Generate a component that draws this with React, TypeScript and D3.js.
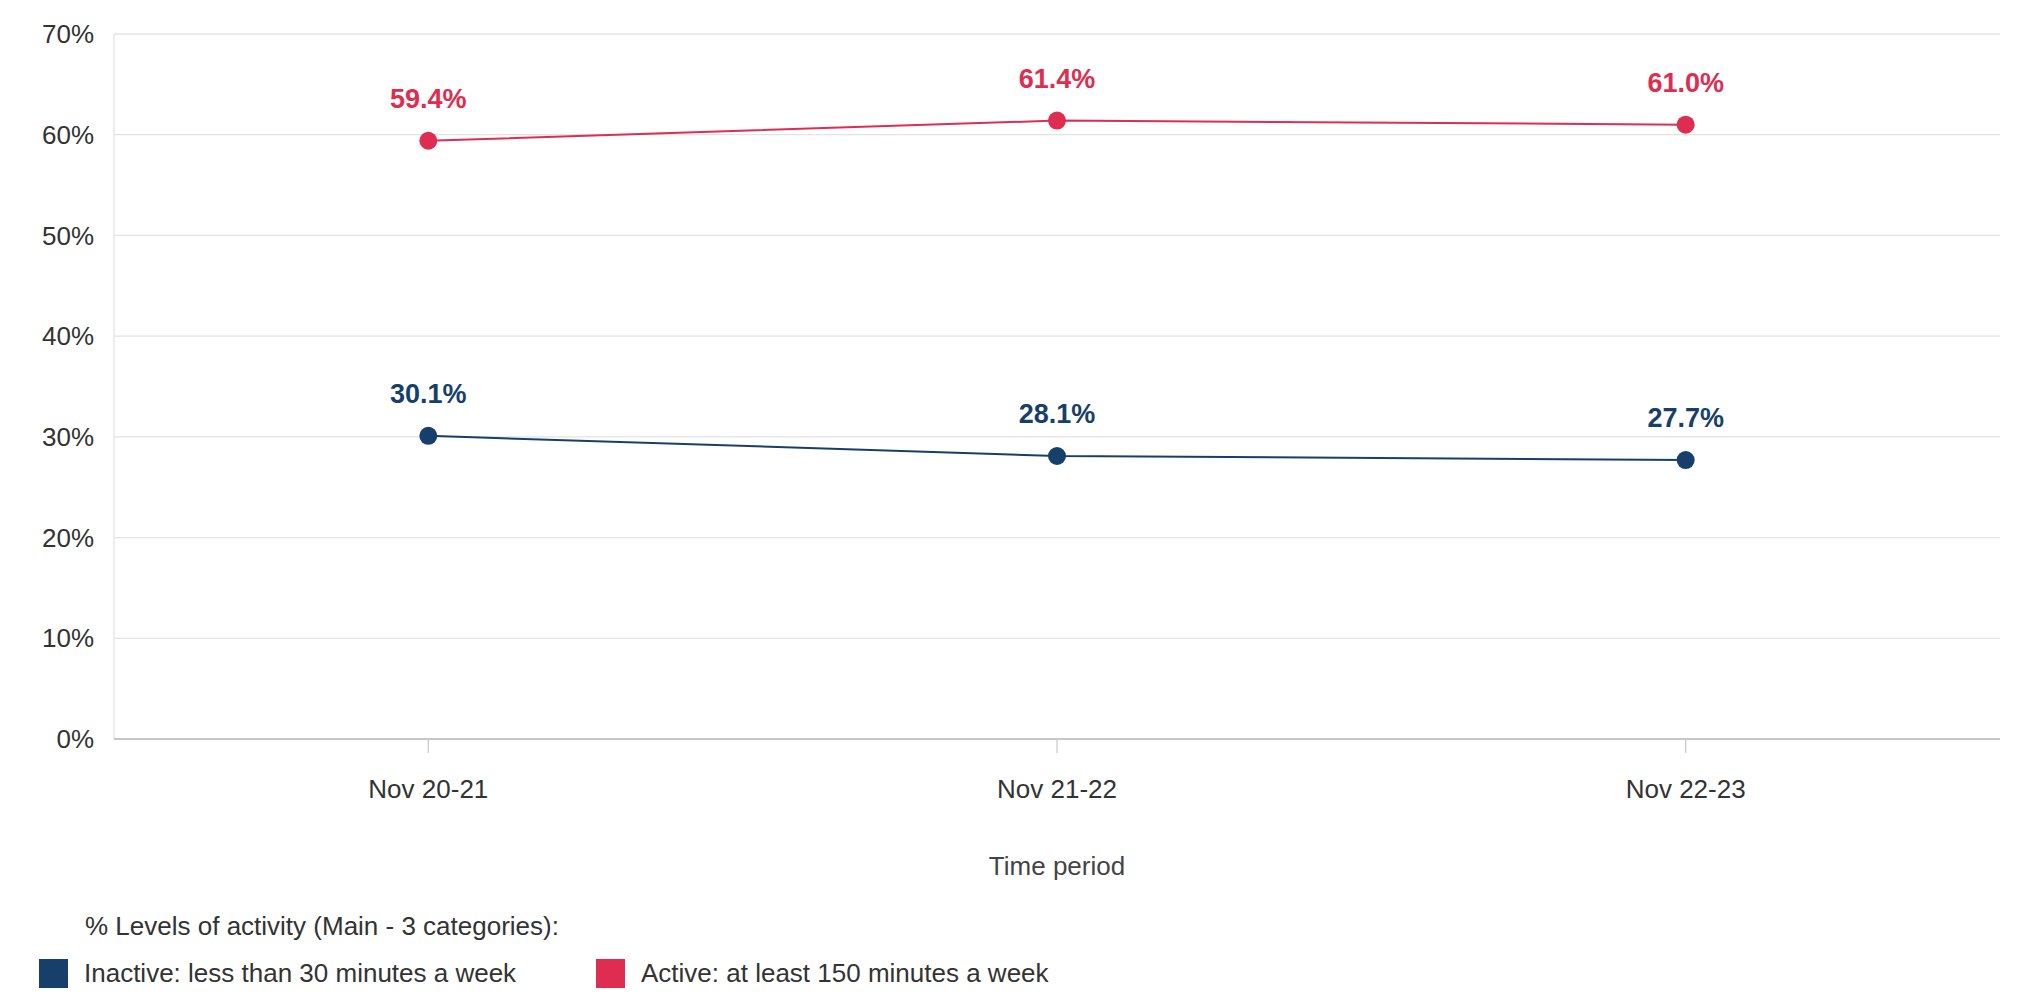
import React from 'react';
import * as d3 from 'd3';

const periods = ['Nov 20-21', 'Nov 21-22', 'Nov 22-23'];
const inactive = [30.1, 28.1, 27.7];
const active = [59.4, 61.4, 61.0];
const yTicks = [0, 10, 20, 30, 40, 50, 60, 70];

const series = [
  { name: 'Inactive: less than 30 minutes a week', color: '#173f6b', values: inactive },
  { name: 'Active: at least 150 minutes a week', color: '#de2d50', values: active },
];

const W = 2036;
const H = 1004;
const margin = { left: 114, right: 36, top: 34, bottom: 265 };

export default function App() {
  const x = d3.scalePoint<string>().domain(periods).range([margin.left, W - margin.right]).padding(0.5);
  const y = d3.scaleLinear().domain([0, 70]).range([H - margin.bottom, margin.top]);
  const line = d3.line<number>().x((_, i) => x(periods[i])!).y(d => y(d));
  const font = '"Liberation Sans", Arial, sans-serif';

  return (
    <svg width={W} height={H} style={{ position: 'absolute', left: 0, top: 0, fontFamily: font }}>
      {yTicks.map(t => (
        <g key={t}>
          {t > 0 && <line x1={margin.left} x2={W - margin.right} y1={y(t)} y2={y(t)} stroke="#e3e3e3" strokeWidth={1.3} />}
          <text x={margin.left - 20} y={y(t)} dy="0.35em" textAnchor="end" fontSize={26} fill="#333">{t}%</text>
        </g>
      ))}
      <line x1={margin.left} x2={margin.left} y1={margin.top} y2={y(0)} stroke="#e3e3e3" strokeWidth={1.3} />
      <line x1={margin.left} x2={W - margin.right} y1={y(0)} y2={y(0)} stroke="#b5b5b5" strokeWidth={1.5} />
      {periods.map(p => (
        <g key={p}>
          <line x1={x(p)} x2={x(p)} y1={y(0)} y2={y(0) + 14} stroke="#ccc" strokeWidth={1.3} />
          <text x={x(p)} y={789} dy="0.35em" textAnchor="middle" fontSize={26} fill="#333">{p}</text>
        </g>
      ))}
      <text x={(margin.left + W - margin.right) / 2} y={866} dy="0.35em" textAnchor="middle" fontSize={26} fill="#444">Time period</text>

      {series.map(s => (
        <g key={s.name}>
          <path d={line(s.values)!} fill="none" stroke={s.color} strokeWidth={2} />
          {s.values.map((v, i) => (
            <g key={i}>
              <circle cx={x(periods[i])} cy={y(v)} r={9} fill={s.color} />
              <text x={x(periods[i])} y={y(v) - 42} dy="0.35em" textAnchor="middle" fontSize={27} fontWeight="bold" fill={s.color}>
                {v.toFixed(1)}%
              </text>
            </g>
          ))}
        </g>
      ))}

      <text x={85} y={926} dy="0.35em" fontSize={26} fill="#333">% Levels of activity (Main - 3 categories):</text>
      <g>
        <rect x={39} y={959} width={29} height={29} fill={series[0].color} />
        <text x={84} y={973} dy="0.35em" fontSize={26} fill="#333">{series[0].name}</text>
        <rect x={596} y={959} width={29} height={29} fill={series[1].color} />
        <text x={641} y={973} dy="0.35em" fontSize={26} fill="#333">{series[1].name}</text>
      </g>
    </svg>
  );
}
